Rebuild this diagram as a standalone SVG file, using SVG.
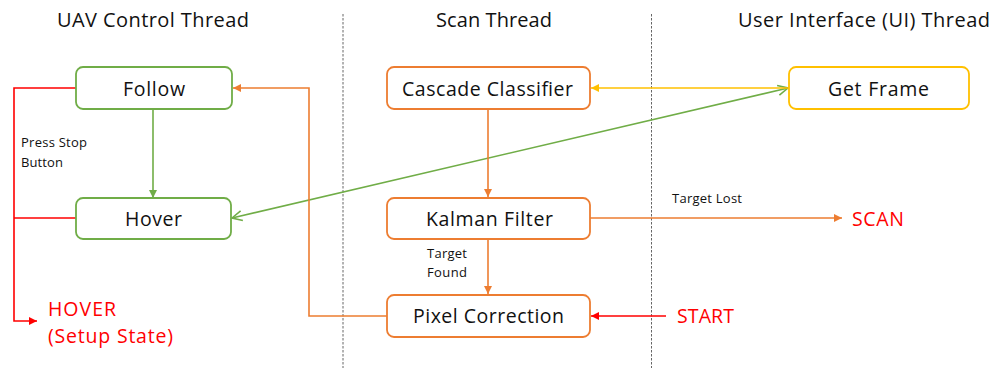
<svg xmlns="http://www.w3.org/2000/svg" width="995" height="368" viewBox="0 0 995 368">
  <style>
    text { font-family: "Open Sans", "Liberation Sans", sans-serif; fill: #111111; }
    .hdr { font-size: 20px; }
    .lbl { font-size: 19.5px; }
    .note { font-size: 13px; }
    .red { font-size: 19.5px; fill: #ff0000; }
    .box { fill: #ffffff; stroke-width: 1.8; }
    .g { stroke: #70ad47; }
    .o { stroke: #ed7d31; }
    .y { stroke: #ffc000; }
    .r { stroke: #ff0000; }
    .lane { stroke: #666666; stroke-width: 1; stroke-dasharray: 2.5 1.5; fill: none; }
    #connectors path, #connectors line { fill: none; stroke-width: 1.6; }
  </style>
  <defs>
    <marker id="arrG" viewBox="0 0 10 10" refX="10" refY="5" markerWidth="9" markerHeight="8" markerUnits="userSpaceOnUse" orient="auto">
      <path d="M0,0 L10,5 L0,10 z" fill="#70ad47"/>
    </marker>
    <marker id="arrO" viewBox="0 0 10 10" refX="10" refY="5" markerWidth="10" markerHeight="8" markerUnits="userSpaceOnUse" orient="auto">
      <path d="M0,0 L10,5 L0,10 z" fill="#ed7d31"/>
    </marker>
    <marker id="arrY" viewBox="0 0 10 10" refX="10" refY="5" markerWidth="10" markerHeight="8" markerUnits="userSpaceOnUse" orient="auto">
      <path d="M0,0 L10,5 L0,10 z" fill="#ffc000"/>
    </marker>
    <marker id="arrR" viewBox="0 0 10 10" refX="10" refY="5" markerWidth="10" markerHeight="8" markerUnits="userSpaceOnUse" orient="auto">
      <path d="M0,0 L10,5 L0,10 z" fill="#ff0000"/>
    </marker>
    <marker id="openG" viewBox="0 0 12 12" refX="11" refY="6" markerWidth="12" markerHeight="12" markerUnits="userSpaceOnUse" orient="auto-start-reverse">
      <path d="M1,1 L11,6 L1,11" fill="none" stroke="#70ad47" stroke-width="1.6"/>
    </marker>
  </defs>

  <rect width="995" height="368" fill="#ffffff"/>

  <!-- lane headers and separators -->
  <g id="lanes">
    <text class="hdr" x="153" y="27" text-anchor="middle" textLength="192">UAV Control Thread</text>
    <text class="hdr" x="494" y="27" text-anchor="middle" textLength="116">Scan Thread</text>
    <text class="hdr" x="864" y="27" text-anchor="middle" textLength="252">User Interface (UI) Thread</text>
    <line class="lane" x1="343" y1="14" x2="343" y2="368"/>
    <line class="lane" x1="651.5" y1="14" x2="651.5" y2="368"/>
  </g>

  <!-- connectors -->
  <g id="connectors">
    <!-- stop button: back to setup hover -->
    <path class="r" d="M76,88 H14 V321 H37" marker-end="url(#arrR)" stroke-width="2"/>
    <path class="r" d="M76,218 H14" stroke-width="2"/>
    <!-- follow to hover -->
    <line class="g" x1="153" y1="109" x2="153" y2="198" marker-end="url(#arrG)"/>
    <!-- hover <-> get frame -->
    <line class="g" x1="232" y1="218" x2="788" y2="88" marker-start="url(#openG)" marker-end="url(#openG)"/>
    <!-- get frame to classifier -->
    <line class="y" x1="789" y1="88" x2="591" y2="88" marker-end="url(#arrY)"/>
    <!-- scan chain -->
    <line class="o" x1="488" y1="109" x2="488" y2="197" marker-end="url(#arrO)"/>
    <line class="o" x1="488" y1="239" x2="488" y2="294" marker-end="url(#arrO)"/>
    <line class="o" x1="590" y1="218" x2="842" y2="218" marker-end="url(#arrO)"/>
    <path class="o" d="M387,316 H309 V88 H233" marker-end="url(#arrO)"/>
    <!-- start -->
    <line class="r" x1="666" y1="316" x2="591" y2="316" marker-end="url(#arrR)"/>
  </g>

  <!-- nodes -->
  <g id="follow">
    <rect class="box g" x="76" y="67" width="156" height="42" rx="7"/>
    <text class="lbl" x="154" y="96" text-anchor="middle" textLength="62">Follow</text>
  </g>
  <g id="hover">
    <rect class="box g" x="76" y="198" width="155" height="41" rx="7"/>
    <text class="lbl" x="153.5" y="226" text-anchor="middle" textLength="57">Hover</text>
  </g>
  <g id="cascade-classifier">
    <rect class="box o" x="387" y="67" width="203" height="42" rx="7"/>
    <text class="lbl" x="487.5" y="96" text-anchor="middle" textLength="171">Cascade Classifier</text>
  </g>
  <g id="kalman-filter">
    <rect class="box o" x="387" y="198" width="203" height="41" rx="7"/>
    <text class="lbl" x="489.5" y="226" text-anchor="middle" textLength="127">Kalman Filter</text>
  </g>
  <g id="pixel-correction">
    <rect class="box o" x="387" y="295" width="203" height="42" rx="7"/>
    <text class="lbl" x="488.5" y="323" text-anchor="middle" textLength="151">Pixel Correction</text>
  </g>
  <g id="get-frame">
    <rect class="box y" x="789" y="67" width="180" height="42" rx="7"/>
    <text class="lbl" x="878.5" y="96" text-anchor="middle" textLength="101">Get Frame</text>
  </g>

  <!-- state labels -->
  <g id="hover-setup">
    <text class="red" x="48" y="316" textLength="68">HOVER</text>
    <text class="red" x="48" y="343" textLength="125">(Setup State)</text>
  </g>
  <g id="scan">
    <text class="red" x="852" y="226" textLength="52">SCAN</text>
  </g>
  <g id="start">
    <text class="red" x="677" y="323" textLength="57">START</text>
  </g>

  <!-- transition notes -->
  <g id="notes">
    <text class="note" x="21" y="147" textLength="66">Press Stop</text>
    <text class="note" x="21" y="167" textLength="42">Button</text>
    <text class="note" x="427" y="258" textLength="40">Target</text>
    <text class="note" x="427" y="277" textLength="40">Found</text>
    <text class="note" x="672" y="203" textLength="70">Target Lost</text>
  </g>
</svg>
